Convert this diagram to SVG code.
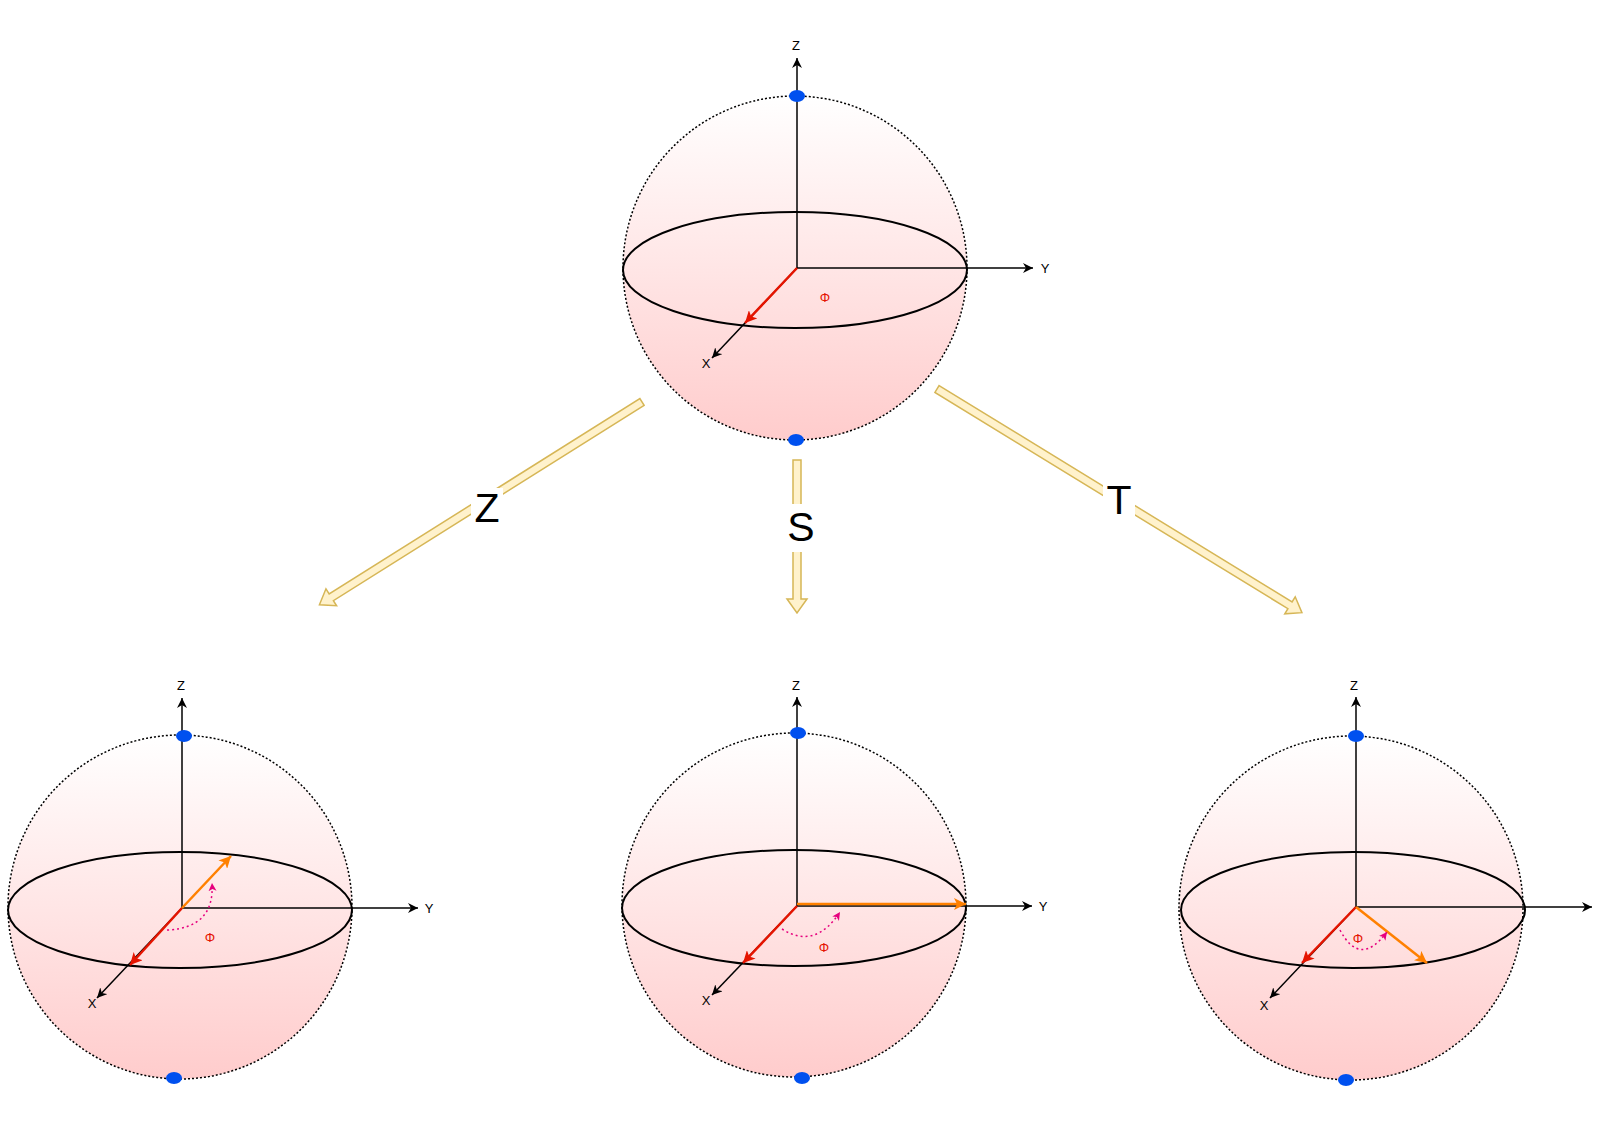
<svg xmlns="http://www.w3.org/2000/svg" width="1604" height="1142" viewBox="0 0 1604 1142">
<style>
.sph{stroke:#000;stroke-width:1.5;stroke-dasharray:2,2;fill:url(#g)}
.eq{fill:none;stroke:#000;stroke-width:2}
.ax{stroke:#000;stroke-width:1.5;fill:none;marker-end:url(#ab)}
.red{stroke:#e51400;stroke-width:2.5;marker-end:url(#ar)}
.org{stroke:#ff8000;stroke-width:2.5;marker-end:url(#ao)}
.arc{fill:none;stroke:#e6007e;stroke-width:1.5;stroke-dasharray:2,3;marker-end:url(#am)}
.dot{fill:#0050ef}
.lbl{font-family:"Liberation Sans",Arial,sans-serif;font-size:13px;fill:#000;text-anchor:middle}
.phi{font-family:"Liberation Sans",Arial,sans-serif;font-size:13px;fill:#e51400;text-anchor:middle}
.big{font-family:"Liberation Sans",Arial,sans-serif;font-size:41px;fill:#000;text-anchor:middle}
.fa{fill:#fff2cc;stroke:#d6b656;stroke-width:1.5}
</style>
<defs>
<linearGradient id="g" x1="0" y1="0" x2="0" y2="1"><stop offset="0" stop-color="#ffffff"/><stop offset="1" stop-color="#ffcccc"/></linearGradient>
<marker id="ab" markerWidth="12" markerHeight="10" refX="10" refY="5" orient="auto" markerUnits="userSpaceOnUse"><path d="M0,0 L10,5 L0,10 L3,5 Z" fill="#000"/></marker>
<marker id="ar" markerWidth="14" markerHeight="12" refX="12" refY="6" orient="auto" markerUnits="userSpaceOnUse"><path d="M0,0 L12,6 L0,12 L3,6 Z" fill="#e51400"/></marker>
<marker id="ao" markerWidth="14" markerHeight="12" refX="12" refY="6" orient="auto" markerUnits="userSpaceOnUse"><path d="M0,0 L12,6 L0,12 L3,6 Z" fill="#ff8000"/></marker>
<marker id="am" markerWidth="10" markerHeight="10" refX="8" refY="4" orient="auto" markerUnits="userSpaceOnUse"><path d="M0,0 L8,4 L0,8 L2,4 Z" fill="#e6007e"/></marker>
</defs>
<rect width="1604" height="1142" fill="#fff"/>

<g id="sphere-top">
<circle class="sph" cx="795" cy="268" r="172"/>
<ellipse class="eq" cx="795" cy="270" rx="172" ry="58"/>
<line class="ax" x1="797" y1="268" x2="797" y2="58"/>
<line class="ax" x1="797" y1="268" x2="1033" y2="268"/>
<line class="ax" x1="797" y1="268" x2="712" y2="358"/>
<line class="red" x1="797" y1="268" x2="745" y2="323"/>
<ellipse class="dot" cx="797" cy="96" rx="8" ry="6"/>
<ellipse class="dot" cx="796" cy="440" rx="8" ry="6"/>
<text class="lbl" x="796" y="50">Z</text>
<text class="lbl" x="1045" y="273">Y</text>
<text class="lbl" x="706" y="368">X</text>
<text class="phi" x="825" y="302">Φ</text>
</g>

<g id="sphere-z">
<circle class="sph" cx="180" cy="907" r="172"/>
<ellipse class="eq" cx="180" cy="910" rx="172" ry="58"/>
<line class="ax" x1="182" y1="908" x2="182" y2="698"/>
<line class="ax" x1="182" y1="908" x2="418" y2="908"/>
<line class="ax" x1="182" y1="908" x2="97" y2="998"/>
<line class="red" x1="182" y1="908" x2="130" y2="965"/>
<line class="org" x1="182" y1="908" x2="231" y2="856"/>
<path class="arc" d="M167,930 Q215,928 212,883"/>
<ellipse class="dot" cx="184" cy="736" rx="8" ry="6"/>
<ellipse class="dot" cx="174" cy="1078" rx="8" ry="6"/>
<text class="lbl" x="181" y="690">Z</text>
<text class="lbl" x="429" y="913">Y</text>
<text class="lbl" x="92" y="1008">X</text>
<text class="phi" x="210" y="942">Φ</text>
</g>

<g id="sphere-s">
<circle class="sph" cx="794" cy="905" r="172"/>
<ellipse class="eq" cx="794" cy="908" rx="172" ry="58"/>
<line class="ax" x1="797" y1="906" x2="797" y2="697"/>
<line class="ax" x1="797" y1="906" x2="1032" y2="906"/>
<line class="ax" x1="797" y1="906" x2="712" y2="995"/>
<line class="red" x1="797" y1="906" x2="743" y2="963"/>
<line class="org" x1="797" y1="904" x2="966" y2="904"/>
<path class="arc" d="M782,929 Q815,950 840,912"/>
<ellipse class="dot" cx="798" cy="733" rx="8" ry="6"/>
<ellipse class="dot" cx="802" cy="1078" rx="8" ry="6"/>
<text class="lbl" x="796" y="690">Z</text>
<text class="lbl" x="1043" y="911">Y</text>
<text class="lbl" x="706" y="1005">X</text>
<text class="phi" x="824" y="952">Φ</text>
</g>

<g id="sphere-t">
<circle class="sph" cx="1351" cy="908" r="172"/>
<ellipse class="eq" cx="1353" cy="910" rx="172" ry="58"/>
<line class="ax" x1="1356" y1="907" x2="1356" y2="697"/>
<line class="ax" x1="1356" y1="907" x2="1592" y2="907"/>
<line class="ax" x1="1356" y1="907" x2="1270" y2="998"/>
<line class="red" x1="1356" y1="907" x2="1302" y2="963"/>
<line class="org" x1="1356" y1="907" x2="1427" y2="963"/>
<path class="arc" d="M1340,930 Q1360,968 1387,932"/>
<ellipse class="dot" cx="1356" cy="736" rx="8" ry="6"/>
<ellipse class="dot" cx="1346" cy="1080" rx="8" ry="6"/>
<text class="lbl" x="1354" y="690">Z</text>
<text class="lbl" x="1264" y="1010">X</text>
<text class="phi" x="1358" y="943">Φ</text>
</g>

<g id="connectors">
<g transform="translate(642,402) rotate(147.85)"><path class="fa" d="M0,-4 L367,-4 L367,-10 L381,0 L367,10 L367,4 L0,4 Z"/></g>
<g transform="translate(797,460) rotate(90)"><path class="fa" d="M0,-4 L139,-4 L139,-10 L153,0 L139,10 L139,4 L0,4 Z"/></g>
<g transform="translate(937,389) rotate(31.5)"><path class="fa" d="M0,-4 L414,-4 L414,-10 L428,0 L414,10 L414,4 L0,4 Z"/></g>
<rect x="471" y="488" width="32" height="40" fill="#fff"/>
<rect x="784" y="504" width="34" height="48" fill="#fff"/>
<rect x="1103" y="480" width="32" height="40" fill="#fff"/>
<text class="big" x="487" y="522">Z</text>
<text class="big" x="801" y="541">S</text>
<text class="big" x="1119" y="514">T</text>
</g>
</svg>
